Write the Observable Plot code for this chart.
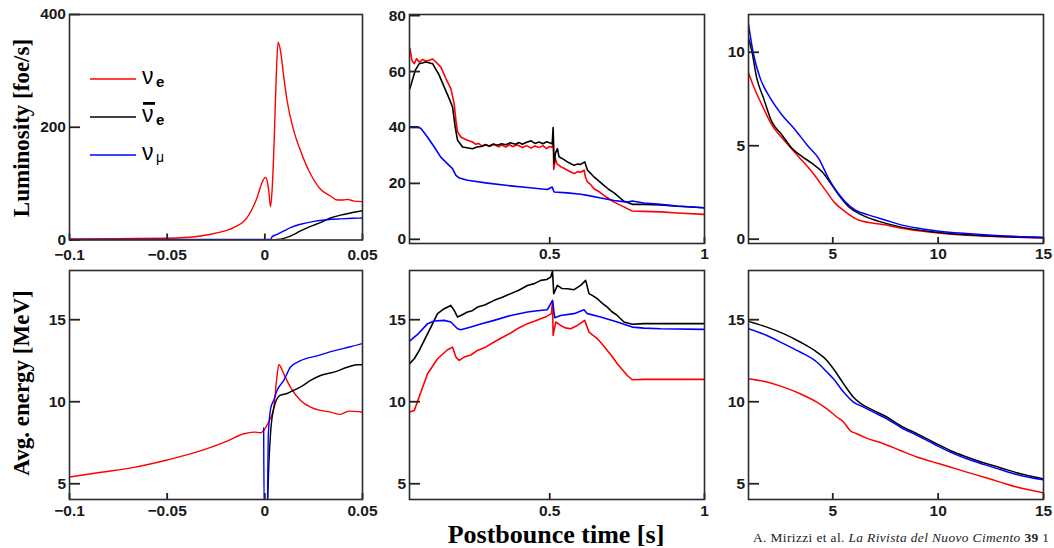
<!DOCTYPE html>
<html><head><meta charset="utf-8">
<script src="https://cdn.jsdelivr.net/npm/d3@7"></script>
<script src="https://cdn.jsdelivr.net/npm/@observablehq/plot@0.6"></script>
<style>
body{margin:0;background:#fff;}
#fig{position:relative;width:1054px;height:548px;overflow:hidden;background:#fff;}
.panel{position:absolute;}
.panel svg{overflow:visible;}
#overlay{position:absolute;left:0;top:0;pointer-events:none;}
</style></head>
<body><div id="fig"></div>
<script>
// ---------- data: [time, value] ----------
// Luminosity [foe/s], pre-bounce window
const lumPre_nue = [[-0.1,2],[-0.075,2.5],[-0.05,3],[-0.033,7],[-0.024,13],[-0.016,22],[-0.009,40],[-0.004,75],[-0.0014,102],[0.0003,111],[0.0012,105],[0.002,87],[0.0029,59],[0.0038,93],[0.0049,188],[0.006,306],[0.0068,351],[0.008,336],[0.0097,289],[0.0114,247],[0.0148,194],[0.0183,158],[0.0234,117],[0.0285,90],[0.0336,78],[0.037,71],[0.0405,71],[0.0422,72],[0.0456,69],[0.05,68]];
const lumPre_nuebar = [[-0.1,0.5],[0.004,0.5],[0.0063,1],[0.0097,3],[0.0131,7],[0.0183,16],[0.0234,24],[0.0285,31],[0.0336,39],[0.0387,44],[0.0438,48],[0.05,52]];
const lumPre_numu = [[-0.1,1],[0.0029,1],[0.0038,6],[0.0063,10],[0.0097,16],[0.0131,22],[0.0183,28],[0.0251,33],[0.0319,36],[0.0387,37.5],[0.045,38.5],[0.05,39]];
// Luminosity, accretion phase
const lumMid_nue = [[0.0484,68.2],[0.0548,64],[0.0623,62.8],[0.07,64.6],[0.0784,63.4],[0.0894,64.3],[0.1,63.8],[0.111,64],[0.122,64.5],[0.1323,63.4],[0.1484,61.6],[0.1645,57.5],[0.1806,53.9],[0.1913,48.5],[0.1968,42.6],[0.2023,38.4],[0.2129,36.6],[0.23,35.6],[0.2506,34.8],[0.26,34.0],[0.27,34.3],[0.28,33.4],[0.2935,33.9],[0.305,33.2],[0.32,33.9],[0.335,33.1],[0.345,33.7],[0.358,33.0],[0.37,33.8],[0.38,33.2],[0.395,33.7],[0.4119,32.8],[0.425,33.5],[0.44,32.6],[0.452,33.4],[0.4655,32.8],[0.478,33.5],[0.49,32.4],[0.5,33.2],[0.5087,32.8],[0.511,37],[0.513,25],[0.518,29],[0.524,26.8],[0.53,26.5],[0.536,25.9],[0.546,25.4],[0.557,24.7],[0.568,24.1],[0.579,23.5],[0.59,24.2],[0.6,24],[0.611,24.7],[0.616,22],[0.622,20.5],[0.632,19.6],[0.643,18.1],[0.66,17.0],[0.675,15.7],[0.69,14.6],[0.708,13.3],[0.725,12.4],[0.74,11.6],[0.755,10.7],[0.767,10.1],[0.804,10],[0.858,9.8],[0.912,9.4],[1,8.9]];
const lumMid_nuebar = [[0.0484,53.9],[0.0548,56.3],[0.0655,60.4],[0.0784,62.8],[0.1,63.4],[0.1216,62.8],[0.1429,58.7],[0.159,54.5],[0.1752,50.3],[0.1861,47.3],[0.1945,40.2],[0.2023,35.4],[0.2184,33],[0.2506,32.4],[0.265,33.0],[0.28,33.2],[0.292,33.8],[0.3042,33.4],[0.318,34.1],[0.33,33.6],[0.345,34.2],[0.358,33.8],[0.372,34.5],[0.39,34.0],[0.4,34.6],[0.4119,34.0],[0.425,34.7],[0.44,35.2],[0.452,34.3],[0.4655,34.8],[0.478,34.2],[0.49,34.9],[0.508,34.2],[0.511,40],[0.514,27],[0.519,31],[0.525,32.4],[0.53,29.5],[0.545,28.6],[0.557,27.7],[0.568,27.0],[0.579,26.5],[0.59,26.9],[0.6,26.8],[0.613,27.7],[0.622,24.7],[0.632,23.6],[0.643,22.3],[0.66,20.7],[0.675,19.3],[0.69,17.9],[0.708,16.6],[0.725,15.0],[0.74,13.6],[0.767,12.5],[0.804,12.5],[0.858,12.3],[0.912,11.8],[1,11.3]];
const lumMid_numu = [[0.0473,40.2],[0.073,40.2],[0.084,39.6],[0.105,36.6],[0.127,33],[0.148,29.4],[0.17,27],[0.186,25.3],[0.197,22.9],[0.208,21.9],[0.234,21.1],[0.299,20.1],[0.374,19.1],[0.428,18.5],[0.492,17.8],[0.508,18.7],[0.514,16.9],[0.557,16.6],[0.6,16.1],[0.622,15.7],[0.665,14.8],[0.708,13.9],[0.751,13.3],[0.767,13.7],[0.804,13],[0.858,12.5],[0.912,11.9],[1,11.3]];
// Luminosity, cooling phase
const lumLate_nue = [[1.0,8.9],[1.24,8.18],[1.63,7.2],[2.1,6.13],[2.74,5.23],[3.37,4.43],[4.0,3.62],[4.64,2.64],[5.11,1.93],[5.58,1.48],[6.22,1.03],[7.48,0.77],[8.2,0.6],[9.78,0.36],[11.36,0.21],[12.94,0.13],[15,0.06]];
const lumLate_nuebar = [[1.0,10.77],[1.16,10.05],[1.39,8.63],[1.71,7.56],[2.1,6.3],[2.58,5.59],[3.05,4.88],[3.53,4.43],[4.0,4.07],[4.48,3.62],[4.95,2.91],[5.34,2.28],[5.74,1.75],[6.37,1.3],[7.48,0.86],[8.2,0.66],[9.78,0.39],[11.36,0.24],[12.94,0.14],[15,0.08]];
const lumLate_numu = [[1.0,11.5],[1.24,9.88],[1.55,8.63],[2.03,7.56],[2.58,6.66],[3.21,5.86],[3.84,4.96],[4.32,4.34],[4.79,3.27],[5.19,2.55],[5.58,2.02],[6.06,1.57],[6.69,1.3],[7.48,1.03],[8.2,0.78],[8.99,0.6],[9.78,0.47],[11.36,0.3],[12.94,0.18],[15,0.11]];
// Average energy [MeV], pre-bounce window
const enPre_nue = [[-0.1,5.41],[-0.0838,5.7],[-0.067,6.0],[-0.05,6.45],[-0.033,7.0],[-0.0193,7.6],[-0.0107,8.05],[-0.0056,8.15],[-0.002,8.11],[0.0003,8.4],[0.0025,8.9],[0.0033,9.1],[0.0046,9.67],[0.006,11.3],[0.0072,12.28],[0.008,12.15],[0.0097,11.7],[0.0131,10.89],[0.0183,10.08],[0.0234,9.67],[0.0285,9.47],[0.0336,9.37],[0.0387,9.23],[0.043,9.43],[0.05,9.37]];
const enPre_nuebar = [[0.0012,3],[0.002,6],[0.0032,8.5],[0.0046,9.6],[0.0063,10.2],[0.008,10.4],[0.0114,10.5],[0.0148,10.7],[0.0183,10.9],[0.0234,11.3],[0.0285,11.6],[0.0353,11.8],[0.0421,12.1],[0.0472,12.25],[0.05,12.25]];
const enPre_numu = [[-0.0006,8.4],[-0.0003,3],[0.0012,3],[0.0018,8.0],[0.003,9.6],[0.0046,10.1],[0.0063,10.7],[0.0097,11.3],[0.0131,12.1],[0.0183,12.5],[0.0268,12.8],[0.0353,13.1],[0.0438,13.35],[0.05,13.55]];
// Average energy, accretion phase
const enMid_nue = [[0.0473,9.37],[0.0624,9.47],[0.0839,10.59],[0.1054,11.71],[0.1376,12.62],[0.1699,13.17],[0.186,13.33],[0.1968,12.72],[0.2075,12.52],[0.2237,12.72],[0.245,12.85],[0.2667,13.13],[0.29,13.3],[0.3204,13.64],[0.345,13.9],[0.3742,14.19],[0.4,14.5],[0.428,14.76],[0.45,14.9],[0.471,15.06],[0.49,15.2],[0.5054,15.37],[0.509,16.1],[0.511,14.04],[0.5194,14.86],[0.5355,14.65],[0.55,14.5],[0.5677,14.45],[0.5892,14.65],[0.6129,14.96],[0.6269,14.25],[0.64,14.05],[0.6538,13.84],[0.67,13.5],[0.686,13.13],[0.7,12.8],[0.7183,12.32],[0.7505,11.6],[0.7667,11.34],[0.8043,11.36],[1,11.36]];
const enMid_nuebar = [[0.0473,12.32],[0.0624,12.62],[0.0785,13.13],[0.0946,13.74],[0.1161,14.55],[0.1376,15.37],[0.1591,15.67],[0.1806,15.87],[0.1914,15.57],[0.2022,15.16],[0.2129,15.26],[0.2344,15.47],[0.25,15.55],[0.2667,15.77],[0.29,15.9],[0.3204,16.18],[0.345,16.35],[0.3742,16.59],[0.4,16.8],[0.428,17.09],[0.45,17.2],[0.471,17.4],[0.49,17.45],[0.5032,17.6],[0.509,17.95],[0.513,16.59],[0.5247,17.09],[0.54,16.9],[0.557,16.89],[0.5785,16.83],[0.6,17.09],[0.6161,17.4],[0.6269,16.59],[0.64,16.45],[0.6538,16.28],[0.67,16.0],[0.686,15.77],[0.7,15.5],[0.7183,15.26],[0.7398,14.86],[0.7667,14.72],[0.8043,14.76],[1,14.76]];
const enMid_numu = [[0.0473,13.7],[0.0731,14.1],[0.1054,14.76],[0.1269,14.92],[0.1591,14.96],[0.1806,14.86],[0.2022,14.45],[0.2129,14.39],[0.2452,14.55],[0.28,14.75],[0.3204,14.96],[0.3742,15.26],[0.428,15.47],[0.46,15.55],[0.4925,15.61],[0.509,16.18],[0.5161,15.12],[0.5355,15.26],[0.5785,15.37],[0.6108,15.61],[0.6215,15.37],[0.6645,15.16],[0.7183,14.86],[0.7667,14.55],[0.8043,14.49],[0.8581,14.45],[1,14.41]];
// Average energy, cooling phase
const enLate_nue = [[1.0,11.4],[1.87,11.2],[2.66,10.89],[3.45,10.49],[4.24,9.98],[4.72,9.57],[5.19,9.07],[5.51,8.76],[5.82,8.25],[6.14,8.05],[6.61,7.78],[7.41,7.44],[8.2,7.03],[8.99,6.63],[9.78,6.32],[10.57,6.02],[11.36,5.71],[12.15,5.41],[12.94,5.1],[13.73,4.8],[15,4.45]];
const enLate_nuebar = [[1.0,14.9],[1.87,14.55],[2.66,14.15],[3.45,13.64],[4.24,13.03],[4.72,12.52],[5.03,12.01],[5.51,11.1],[5.98,10.28],[6.3,9.92],[6.93,9.47],[7.56,9.07],[8.2,8.56],[8.99,8.05],[9.78,7.54],[10.57,7.03],[11.36,6.63],[12.15,6.28],[12.94,5.98],[13.73,5.67],[15,5.3]];
const enLate_numu = [[1.0,14.45],[1.87,14.04],[2.66,13.54],[3.45,13.03],[4.24,12.42],[4.72,11.81],[5.03,11.4],[5.51,10.59],[5.98,9.98],[6.46,9.67],[6.93,9.37],[7.56,8.96],[8.2,8.46],[8.99,7.95],[9.78,7.44],[10.57,6.93],[11.36,6.52],[12.15,6.18],[12.94,5.87],[13.73,5.57],[15,5.24]];

// tick values
const xTicksPre = [-0.1, -0.05, 0, 0.05];
const xTicksMid = [0.5, 1];
const xTicksLate = [5, 10, 15];
const yTicksLumPre = [0, 200, 400];
const yTicksLumMid = [0, 20, 40, 60, 80];
const yTicksLumLate = [0, 5, 10];
const yTicksEn = [5, 10, 15];

// text
const flavorColors = ["#ff0000", "#000000", "#0000ff"];
const yTitleTop = "Luminosity [foe/s]";
const yTitleBottom = "Avg. energy [MeV]";
const xTitle = "Postbounce time [s]";

// ---------- drawing ----------
const fig = document.getElementById("fig");
const fmt = d3.format("");

function panel({left, top, w, h, xDomain, yDomain, xTicks, yTicks, series, curve, xPad, sw}) {
  const mL = 50, mR = 16, mT = 8, mB = 30;
  const chart = Plot.plot({
    width: w + mL + mR, height: h + mT + mB,
    marginLeft: mL, marginRight: mR, marginTop: mT, marginBottom: mB,
    style: {background: "transparent", overflow: "visible", maxWidth: "none",
            fontFamily: "'Liberation Sans', Arial, sans-serif", fontSize: "15.5px", fontWeight: "bold", color: "#1a1a1a"},
    x: {domain: xDomain, label: null},
    y: {domain: yDomain, label: null},
    marks: [
      ...series.map((s, i) => Plot.line(s, {x: d => d[0], y: d => d[1], stroke: flavorColors[i], strokeWidth: sw, curve, clip: true})),
      // inward tick marks (short ticks hugging the left and bottom frame edges)
      Plot.tickY(yTicks, {y: d => d, insetRight: w - 11, stroke: "#222", strokeWidth: 1.8}),
      Plot.tickX(xTicks, {x: d => d, insetTop: h - 6, stroke: "#222", strokeWidth: 1.8}),
      Plot.axisX({ticks: xTicks, tickSize: 0, tickPadding: xPad, tickFormat: fmt, label: null}),
      Plot.axisY({ticks: yTicks, tickSize: 0, tickPadding: 3.5, tickFormat: fmt, label: null}),
      Plot.frame({stroke: "#2b2b2b", strokeWidth: 1.6})
    ]
  });
  const div = document.createElement("div");
  div.className = "panel";
  div.style.left = (left - mL) + "px";
  div.style.top = (top - mT) + "px";
  div.appendChild(chart);
  fig.appendChild(div);
}

panel({left: 69, top: 13.5, w: 293, h: 225.5, xDomain: [-0.1, 0.05], yDomain: [0, 400], xTicks: xTicksPre, yTicks: yTicksLumPre,
       series: [lumPre_nue, lumPre_nuebar, lumPre_numu], curve: "monotone-x", xPad: 8.5, sw: 1.4});
panel({left: 409, top: 14, w: 295, h: 229, xDomain: [0.047, 1], yDomain: [-1.5, 80.4], xTicks: xTicksMid, yTicks: yTicksLumMid,
       series: [lumMid_nue, lumMid_nuebar, lumMid_numu], curve: "linear", xPad: 4.5, sw: 1.6});
panel({left: 748, top: 14, w: 295, h: 229, xDomain: [1, 15], yDomain: [-0.23, 12.02], xTicks: xTicksLate, yTicks: yTicksLumLate,
       series: [lumLate_nue, lumLate_nuebar, lumLate_numu], curve: "monotone-x", xPad: 4.5, sw: 1.5});
panel({left: 69, top: 270, w: 293, h: 229, xDomain: [-0.1, 0.05], yDomain: [4.04, 18.0], xTicks: xTicksPre, yTicks: yTicksEn,
       series: [enPre_nue, enPre_nuebar, enPre_numu], curve: "monotone-x", xPad: 5.5, sw: 1.4});
panel({left: 409, top: 270, w: 295, h: 229, xDomain: [0.047, 1], yDomain: [4.04, 18.0], xTicks: xTicksMid, yTicks: yTicksEn,
       series: [enMid_nue, enMid_nuebar, enMid_numu], curve: "linear", xPad: 5.5, sw: 1.6});
panel({left: 748, top: 270, w: 295, h: 229, xDomain: [1, 15], yDomain: [4.04, 18.0], xTicks: xTicksLate, yTicks: yTicksEn,
       series: [enLate_nue, enLate_nuebar, enLate_numu], curve: "monotone-x", xPad: 5.5, sw: 1.5});

// ---------- titles, legend, caption ----------
const NS = "http://www.w3.org/2000/svg";
const ov = document.createElementNS(NS, "svg");
ov.setAttribute("id", "overlay");
ov.setAttribute("width", 1054);
ov.setAttribute("height", 548);
function el(tag, attrs, text) {
  const e = document.createElementNS(NS, tag);
  for (const k in attrs) e.setAttribute(k, attrs[k]);
  if (text != null) e.textContent = text;
  return e;
}
const serif = "'Liberation Serif', 'Times New Roman', serif";
const sans = "'Liberation Sans', Arial, sans-serif";
ov.appendChild(el("text", {transform: "translate(29,128) rotate(-90)", "text-anchor": "middle", "font-family": serif, "font-weight": "bold", "font-size": 23}, yTitleTop));
ov.appendChild(el("text", {transform: "translate(29,383) rotate(-90)", "text-anchor": "middle", "font-family": serif, "font-weight": "bold", "font-size": 23}, yTitleBottom));
ov.appendChild(el("text", {x: 556, y: 543, "text-anchor": "middle", "font-family": serif, "font-weight": "bold", "font-size": 26}, xTitle));

const cap = el("text", {x: 753, y: 542, "font-family": serif, "font-size": 13.4, fill: "#222", textLength: 296, lengthAdjust: "spacing"});
cap.appendChild(el("tspan", {}, "A. Mirizzi et al. "));
cap.appendChild(el("tspan", {"font-style": "italic"}, "La Rivista del Nuovo Cimento"));
cap.appendChild(el("tspan", {"font-weight": "bold"}, " 39"));
cap.appendChild(el("tspan", {}, " 1"));
ov.appendChild(cap);

// legend
const legendRows = [
  {y: 79, sub: "e", bar: false, subBold: true},
  {y: 117, sub: "e", bar: true, subBold: true},
  {y: 155, sub: "μ", bar: false, subBold: false}
];
legendRows.forEach((r, i) => {
  ov.appendChild(el("line", {x1: 90, x2: 136, y1: r.y, y2: r.y, stroke: flavorColors[i], "stroke-width": 1.4}));
  ov.appendChild(el("text", {x: 142, y: r.y + 5, "font-family": sans, "font-size": 23}, "ν"));
  if (r.bar) ov.appendChild(el("rect", {x: 143, y: r.y - 15, width: 12, height: 2.8, fill: "#000"}));
  ov.appendChild(el("text", {x: 156, y: r.y + (r.subBold ? 8 : 7), "font-family": sans, "font-size": r.subBold ? 15 : 14, "font-weight": r.subBold ? "bold" : "normal"}, r.sub));
});
fig.appendChild(ov);
</script>
</body></html>
